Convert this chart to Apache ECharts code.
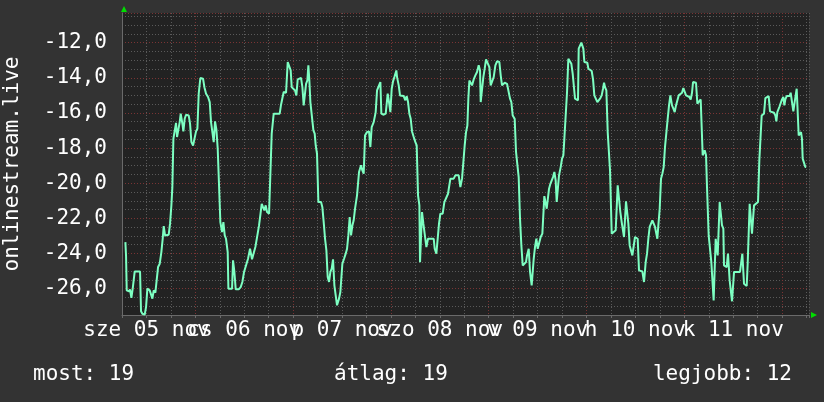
<!DOCTYPE html>
<html>
<head>
<meta charset="utf-8">
<script src="https://cdn.jsdelivr.net/npm/echarts@6/dist/echarts.min.js"></script>
<style>
html,body{margin:0;padding:0;background:#333333;}
#chart{width:824px;height:402px;}
</style>
</head>
<body>
<div id="chart"></div>
<script>
// x values: hours since 5 Nov 00:00 ; y values: reading
const dayLabels = ['sze 05 nov','cs 06 nov','p 07 nov','szo 08 nov','v 09 nov','h 10 nov','k 11 nov'];
const yAxisTitle = 'onlinestream.live';
const legendNow = 'most: 19';
const legendAvg = 'átlag: 19';
const legendBest = 'legjobb: 12';

const partA = [[6.83,-23.35],[6.99,-24.11],[7.16,-26.10],[7.73,-26.16],[7.97,-26.04],[8.30,-26.53],[8.63,-26.00],[8.96,-25.91],[9.12,-25.02],[10.43,-25.02],[10.67,-27.29],[11.00,-27.43],[11.57,-27.48],[11.90,-27.05],[12.23,-26.00],[12.80,-26.10],[13.21,-26.19],[13.46,-26.57],[13.78,-26.10],[14.19,-26.23],[14.60,-26.23],[14.85,-24.77],[15.26,-24.58],[15.66,-23.92],[15.99,-23.16],[16.24,-22.44],[16.56,-22.97],[17.46,-22.93],[17.79,-22.30],[18.12,-21.26],[18.36,-20.22],[18.61,-17.47],[19.02,-17.47],[19.26,-16.56],[19.51,-17.37],[19.84,-17.37],[20.16,-16.52],[20.41,-16.04],[20.82,-16.61],[21.06,-17.05],[21.39,-16.33],[21.72,-16.10],[22.37,-16.14],[22.70,-16.61],[23.03,-17.66],[23.44,-17.85],[23.93,-17.94],[24.17,-17.05],[24.50,-16.90],[24.83,-14.90],[25.23,-14.01],[25.89,-14.05],[26.22,-14.53],[26.63,-14.90],[27.12,-15.09],[27.53,-15.38],[27.85,-16.52],[28.18,-17.09],[28.51,-17.66],[28.83,-16.48],[29.16,-16.93],[29.49,-18.04],[29.98,-18.13],[30.14,-22.21],[30.55,-22.78],[30.88,-22.21],[31.21,-22.97],[31.53,-23.16],[31.94,-23.92],[32.11,-26.00],[33.01,-26.00],[33.25,-24.39],[33.58,-25.05],[33.91,-26.04],[34.64,-26.04],[35.13,-25.91],[35.54,-25.62],[35.95,-25.05],[36.44,-24.96],[36.93,-24.30],[37.42,-23.73],[37.91,-24.33],[38.40,-24.33],[38.73,-23.63],[39.22,-22.97],[39.63,-22.40],[39.88,-21.94]];

const partB = [[40.12,-21.92],[40.29,-21.17],[40.61,-21.36],[40.94,-21.55],[41.27,-21.26],[41.59,-21.64],[42.09,-21.73],[42.49,-21.64],[42.74,-17.18],[43.07,-17.09],[43.23,-16.04],[43.72,-16.14],[44.13,-16.04],[44.70,-16.04],[45.03,-15.53],[45.36,-15.53],[45.68,-14.81],[46.26,-14.85],[46.67,-13.10],[47.08,-13.20],[47.40,-13.58],[47.65,-14.53],[48.06,-14.53],[48.47,-14.72],[48.79,-15.00],[49.12,-14.09],[49.53,-14.01],[49.94,-14.01],[50.27,-14.53],[50.59,-15.57],[50.92,-15.57],[51.17,-14.34],[51.49,-14.15],[51.74,-13.29],[51.98,-14.15],[52.23,-15.38],[52.64,-15.42],[52.97,-16.99],[53.29,-17.18],[53.54,-17.85],[53.86,-18.32],[54.19,-21.07],[54.85,-21.07],[55.17,-21.36],[55.50,-22.21],[55.83,-23.16],[56.16,-23.82],[56.48,-25.34],[56.81,-25.62],[57.14,-25.05],[57.46,-24.86],[57.79,-24.33],[58.12,-25.81],[58.45,-25.87],[58.77,-26.95],[59.26,-26.57],[59.59,-26.19],[60.08,-24.58],[60.49,-24.30],[60.90,-24.01],[61.23,-23.73],[61.55,-22.97],[61.88,-21.92],[62.21,-22.97],[62.54,-22.40],[62.86,-22.11],[63.19,-21.45],[63.68,-20.69],[64.17,-19.36],[64.66,-18.98],[64.99,-19.27],[65.32,-19.46],[65.64,-17.28],[66.13,-17.09],[66.63,-17.05],[66.95,-17.94],[67.28,-16.80],[67.77,-16.52],[68.26,-15.95],[68.59,-14.72],[68.98,-14.62],[69.41,-14.24],[69.65,-16.04],[70.22,-16.10],[70.72,-16.04],[71.21,-14.90],[71.53,-15.38],[71.86,-15.95],[72.19,-14.62],[72.52,-14.20],[72.84,-13.96],[73.33,-13.58]];

const partC = [[73.50,-13.96],[73.91,-14.43],[74.23,-15.00],[75.13,-15.04],[75.54,-15.28],[75.87,-15.04],[76.20,-15.38],[76.52,-16.04],[76.85,-16.33],[77.18,-17.05],[77.59,-17.37],[78.00,-17.66],[78.32,-17.85],[78.65,-20.69],[78.98,-21.26],[79.14,-24.49],[79.47,-24.49],[79.63,-21.64],[79.96,-22.30],[80.29,-22.30],[80.70,-23.63],[81.10,-23.16],[81.68,-23.16],[82.09,-23.06],[82.50,-23.16],[82.74,-23.73],[83.15,-24.01],[83.56,-24.01],[83.80,-22.30],[84.13,-21.73],[84.70,-21.73],[85.11,-21.07],[85.60,-21.07],[86.01,-20.60],[86.59,-19.74],[86.99,-19.65],[87.40,-19.74],[87.81,-19.55],[88.30,-19.46],[88.63,-19.55],[89.04,-20.22],[89.45,-19.74],[89.86,-19.65],[90.10,-17.85],[90.43,-17.09],[90.76,-16.71],[91.00,-15.19],[91.25,-14.15],[91.57,-14.05],[91.90,-14.43],[92.31,-14.09],[92.72,-13.86],[93.13,-13.67],[93.54,-13.29],[93.87,-13.58],[94.03,-15.38],[94.52,-15.38],[94.68,-13.96],[95.01,-13.48],[95.34,-12.95],[95.83,-13.01],[96.16,-13.39],[96.48,-14.43],[96.97,-14.53],[97.22,-13.96],[97.63,-13.29],[98.04,-13.06],[98.61,-13.10],[98.94,-13.86],[99.26,-14.43],[99.59,-14.43],[99.92,-14.28],[100.49,-14.34],[100.90,-14.39],[101.23,-15.19],[101.55,-15.38],[101.88,-16.14],[102.37,-16.33],[102.70,-18.22],[103.03,-18.22],[103.35,-19.65],[103.68,-22.02],[104.01,-23.54],[104.34,-24.68],[104.83,-24.68],[105.15,-24.49],[105.40,-24.11],[105.81,-23.73]];

const partD = [[106.14,-25.05],[106.54,-25.81],[106.87,-25.81],[107.04,-24.30],[107.36,-23.63],[107.69,-23.16],[108.02,-23.73],[108.51,-23.73],[108.75,-23.06],[109.16,-22.87],[109.49,-22.78],[109.65,-20.73],[109.98,-20.69],[110.23,-21.45],[110.47,-21.45],[110.80,-20.31],[111.13,-20.03],[111.45,-19.93],[111.78,-19.65],[112.11,-19.36],[112.43,-19.84],[112.68,-21.07],[113.01,-21.07],[113.25,-19.55],[113.66,-19.08],[113.99,-18.60],[114.32,-18.41],[114.56,-17.47],[114.89,-17.37],[115.22,-14.81],[115.54,-12.91],[115.95,-13.01],[116.28,-13.20],[116.61,-13.77],[116.85,-13.86],[117.18,-15.19],[117.59,-15.28],[117.91,-15.28],[118.08,-12.34],[118.41,-12.25],[118.73,-12.00],[118.98,-12.06],[119.22,-12.34],[119.47,-13.10],[119.80,-13.10],[120.20,-13.14],[120.45,-13.48],[120.86,-13.58],[121.27,-13.61],[121.60,-14.09],[121.92,-15.00],[122.33,-15.00],[122.66,-15.38],[123.07,-15.34],[123.40,-15.15],[123.72,-15.00],[124.05,-14.62],[124.30,-14.28],[124.54,-14.53],[124.87,-14.72],[125.20,-17.09],[125.52,-17.18],[125.77,-19.27],[126.01,-19.36],[126.18,-22.87],[126.67,-22.87],[127.16,-22.68],[127.49,-22.59],[127.65,-20.12],[127.98,-20.22],[128.30,-21.64],[128.63,-22.21],[128.96,-22.21],[129.20,-23.06],[129.53,-23.06],[129.69,-21.03],[130.02,-21.07],[130.27,-22.30],[130.59,-23.54],[130.92,-23.54],[131.25,-24.11],[131.74,-24.11],[131.90,-23.06],[132.23,-23.06],[132.56,-23.16],[132.88,-24.96],[133.37,-25.02],[133.70,-25.02],[134.11,-25.62],[134.36,-25.62],[134.52,-24.49],[134.85,-24.01],[135.17,-23.16],[135.50,-22.49],[135.83,-22.40],[136.16,-22.11],[136.48,-22.21],[136.81,-22.49],[137.14,-22.59],[137.38,-23.16],[137.63,-22.40],[137.96,-21.45],[138.28,-19.74],[138.61,-19.46],[138.94,-19.08],[139.26,-17.94],[139.59,-17.85],[139.84,-16.52],[140.25,-15.57],[140.57,-15.00]];

const partE = [[140.98,-15.57],[141.31,-15.76],[141.64,-15.95],[141.96,-15.57],[142.29,-15.47],[142.62,-15.00],[143.11,-14.96],[143.44,-14.85],[143.76,-14.58],[144.09,-14.53],[144.42,-15.00],[144.91,-15.04],[145.24,-15.09],[145.56,-15.23],[145.89,-14.85],[146.14,-14.24],[146.54,-14.20],[146.87,-14.28],[147.20,-15.47],[147.69,-15.38],[148.02,-15.23],[148.34,-15.15],[148.51,-18.41],[149.00,-18.13],[149.33,-18.41],[149.57,-20.22],[149.82,-20.22],[149.98,-22.97],[150.39,-23.01],[150.63,-24.49],[150.96,-24.58],[151.20,-26.67],[151.45,-26.67],[151.70,-23.16],[152.03,-23.25],[152.19,-24.11],[152.43,-24.11],[152.68,-21.07],[153.01,-21.07],[153.25,-22.40],[153.58,-22.59],[153.74,-24.68],[154.07,-24.77],[154.40,-24.77],[154.72,-24.01],[154.97,-24.01],[155.13,-25.53],[155.46,-25.53],[155.71,-26.72],[156.03,-26.72],[156.20,-25.05],[157.02,-25.05],[157.34,-25.15],[157.67,-25.05],[158.00,-25.15],[158.24,-24.01],[158.49,-24.01],[158.65,-25.72],[158.98,-25.81],[159.31,-25.85],[159.55,-24.58],[159.80,-24.58],[160.04,-21.17],[160.37,-21.22],[160.61,-22.87],[160.94,-22.87],[161.11,-21.26],[161.60,-21.22],[162.09,-21.07],[162.41,-18.70],[162.74,-18.70],[162.99,-16.14],[163.56,-16.04],[163.89,-15.15],[164.21,-15.09],[164.70,-15.04],[165.03,-15.91],[165.52,-15.99],[166.01,-15.99],[166.34,-16.14],[166.59,-16.48],[166.83,-15.95],[167.32,-15.66],[167.73,-15.57],[167.98,-15.23],[168.30,-15.09],[168.55,-15.57],[168.79,-15.23],[169.12,-15.04],[169.53,-14.96],[169.86,-15.04],[170.10,-14.85],[170.27,-14.77],[170.43,-15.38],[170.76,-15.91],[171.08,-15.38],[171.33,-15.00],[171.58,-14.62],[171.90,-14.58],[172.07,-17.28],[172.39,-17.28],[172.64,-17.09],[172.88,-17.47],[173.05,-18.60],[173.38,-18.70],[173.70,-19.08],[173.90,-19.08]];

const series1 = partA.concat(partB, partC, partD, partE);

const FONT = 'DejaVu Sans Mono';
const MINOR = '#5a5a5a';
const MAJOR = '#7a3434';

const chart = echarts.init(document.getElementById('chart'), null, {renderer: 'canvas'});
chart.setOption({
  backgroundColor: '#333333',
  animation: false,
  grid: {left: 122, right: 15, top: 13, bottom: 87, show: true, backgroundColor: '#222222', borderWidth: 0},
  xAxis: {
    type: 'value', min: 6, max: 174.6, interval: 6,
    axisLine: {show: true, lineStyle: {color: '#6a6a6a', width: 1}},
    axisTick: {show: true, length: 3, inside: false, lineStyle: {color: '#6a6a6a'}},
    splitLine: {show: true, lineStyle: {color: [MINOR, MINOR, MINOR, MAJOR], type: [1, 2], width: 1}},
    axisLabel: {
      show: true, margin: 5, color: '#ffffff', fontFamily: FONT, fontSize: 21,
      formatter: function (v) {
        const idx = (v - 12) / 24;
        if (Math.abs(idx - Math.round(idx)) < 1e-6) {
          const i = Math.round(idx);
          if (i >= 0 && i < dayLabels.length) return dayLabels[i];
        }
        return '';
      }
    }
  },
  yAxis: {
    type: 'value', min: -27.5, max: -10.31, interval: 0.5,
    axisLine: {show: true, lineStyle: {color: '#6a6a6a', width: 1}},
    axisTick: {show: false},
    splitLine: {show: true, lineStyle: {color: [MINOR, MINOR, MINOR, MAJOR], type: [1, 2], width: 1}},
    axisLabel: {
      show: true, margin: 15, color: '#ffffff', fontFamily: FONT, fontSize: 21,
      formatter: function (v) {
        const r = Math.round(v / 2) * 2;
        if (Math.abs(v - r) < 1e-6 && v < -10.5) return r.toFixed(1).replace('.', ',');
        return '';
      }
    }
  },
  graphic: [
    {type: 'text', x: 13, y: 164, rotation: Math.PI / 2,
      style: {text: yAxisTitle, fill: '#ffffff', font: '21px "DejaVu Sans Mono"', textAlign: 'center', textVerticalAlign: 'middle'}},
    {type: 'text', x: 33, y: 375,
      style: {text: legendNow, fill: '#ffffff', font: '21px "DejaVu Sans Mono"', textAlign: 'left', textVerticalAlign: 'middle'}},
    {type: 'text', x: 334, y: 375,
      style: {text: legendAvg, fill: '#ffffff', font: '21px "DejaVu Sans Mono"', textAlign: 'left', textVerticalAlign: 'middle'}},
    {type: 'text', x: 792, y: 375,
      style: {text: legendBest, fill: '#ffffff', font: '21px "DejaVu Sans Mono"', textAlign: 'right', textVerticalAlign: 'middle'}},
    {type: 'polygon', shape: {points: [[121, 12], [127, 12], [124, 6]]}, style: {fill: '#00dd00'}},
    {type: 'polygon', shape: {points: [[811, 312], [811, 318], [817, 315]]}, style: {fill: '#00dd00'}}
  ],
  series: [{
    type: 'line', data: series1, showSymbol: false, symbol: 'none',
    lineStyle: {color: '#7dffc2', width: 2}, silent: true, clip: true
  }]
});
</script>
</body>
</html>
